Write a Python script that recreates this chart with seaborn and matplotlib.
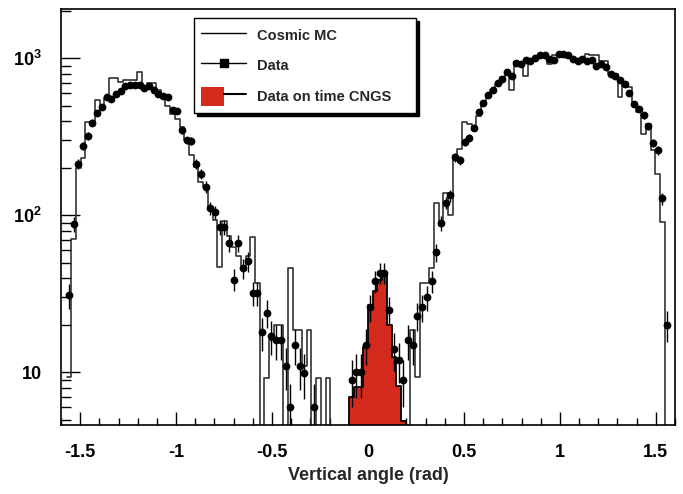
import numpy as np
import pandas as pd
import matplotlib
matplotlib.use('Agg')
import matplotlib.pyplot as plt
import seaborn as sns
from matplotlib.lines import Line2D
from matplotlib.patches import Patch
from matplotlib.legend_handler import HandlerTuple
from matplotlib.ticker import LogLocator, MultipleLocator, FuncFormatter, NullFormatter

# 128 bins of pi/128 rad covering [-pi/2, pi/2]
n_bins = 128
edges = np.linspace(-np.pi / 2, np.pi / 2, n_bins + 1)
centers = 0.5 * (edges[:-1] + edges[1:])

# Cosmic MC (counts per bin)
cosmic_mc = [
    9.3, 71, 200, 232, 393, 393, 545, 470, 560, 753, 753, 706, 724, 724, 724, 818,
    626, 696, 696, 626, 567, 500, 444, 413, 365, 300, 241, 203, 163, 152, 113, 93,
    47, 92, 74, 63, 55, 47, 55, 73, 37, 0, 9.2, 16, 20, 20, 0, 46,
    18.5, 18.5, 11, 18.5, 0, 9.2, 0, 9.2,
    0, 0, 0, 0, 0, 0, 0, 0, 0, 0, 0, 0, 0, 0, 0, 0, 0,
    18.5, 9.3, 37, 37, 46, 119, 86, 138, 100, 241, 266, 393, 384, 351, 427,
    515, 570, 632, 690, 760, 799, 626, 947, 947, 768, 933, 981, 1045, 1045, 919,
    1045, 1045, 1020, 1000, 1000, 980, 1000, 1060, 1045, 1045, 961, 961, 799, 799,
    567, 706, 656, 515, 455, 331, 384, 259, 184, 91, 0,
]

# Data (nan = empty bin)
nan = np.nan
data_counts = [
    31, 88, 213, 278, 320, 390, 450, 490, 570, 550, 595, 620, 670, 680, 680, 675,
    650, 664, 630, 596, 573, 567, 466, 462, 348, 300, 296, 213, 184, 152, 111, 105,
    84, 84, 67, 39, 67, 46, 51, 32, 32, 18, 24, 17, 16, 16, 11, 6,
    15, 11, 9.9, nan, 6, nan, nan, nan, nan, nan, nan, nan,
    9, 10, 10, 15, 26, 38, 43, 43, 25, 14, 12, 9, 16, 15, 23, 26,
    30, 38, 58, 89, 120, 134, 235, 224, 293, 313, 362, 455, 522, 581, 632, 696,
    742, 818, 768, 933, 916, 981, 961, 1010, 1045, 1045, 995, 970, 1060, 1070, 1045, 995,
    960, 995, 960, 970, 890, 916, 880, 790, 768, 732, 690, 600, 510, 478, 433, 369,
    289, 259, 128, 20,
]

# Data on time CNGS (bins 60..71)
cngs_first_bin = 60
cngs_counts = [7.0, 8.1, 8.1, 14.5, 26.7, 33, 38.5, 43, 20, 12.5, 8.2, 4.9]

red = '#d42a1e'

sns.set_style('ticks')
plt.rcParams['font.family'] = ['Liberation Sans', 'DejaVu Sans']
plt.rcParams['font.weight'] = 'bold'
plt.rcParams['mathtext.fontset'] = 'custom'
plt.rcParams['mathtext.rm'] = 'Liberation Sans:bold'
plt.rcParams['mathtext.bf'] = 'Liberation Sans:bold'

fig = plt.figure(figsize=(6.83, 4.94), dpi=100)
ax = fig.add_axes([0.0893, 0.1397, 0.899, 0.842])
ax.set_yscale('log')

mc_df = pd.DataFrame({'angle': centers, 'counts': cosmic_mc})
n_cngs = len(cngs_counts)
cngs_df = pd.DataFrame({'angle': centers[cngs_first_bin:cngs_first_bin + n_cngs],
                        'counts': cngs_counts})

# Cosmic MC step histogram
sns.histplot(data=mc_df, x='angle', weights='counts', bins=n_bins,
             binrange=(edges[0], edges[-1]), element='step', fill=False,
             color='#2a2a2a', linewidth=1.15, ax=ax)

# Data on time CNGS, filled red
sns.histplot(data=cngs_df, x='angle', weights='counts', bins=n_cngs,
             binrange=(edges[cngs_first_bin], edges[cngs_first_bin + n_cngs]),
             element='step', fill=True, color=red, alpha=1, edgecolor='black',
             linewidth=1.3, ax=ax)

# Data points with errors
d = np.array(data_counts, dtype=float)
ok = ~np.isnan(d)
ax.errorbar(centers[ok], d[ok], yerr=np.sqrt(d[ok]), xerr=(edges[1] - edges[0]) / 2,
            fmt='o', ms=4.6, mfc='black', mec='black', ecolor='black',
            elinewidth=1, capsize=0, zorder=5)

ax.set_xlim(-1.6, 1.6)
ax.set_ylim(4.62, 2060)

ax.xaxis.set_major_locator(MultipleLocator(0.5))
ax.xaxis.set_minor_locator(MultipleLocator(0.1))
ax.xaxis.set_major_formatter(FuncFormatter(lambda v, p: f'{v:g}'))
ax.yaxis.set_major_locator(LogLocator(base=10))
ax.yaxis.set_minor_locator(LogLocator(base=10, subs=np.arange(2, 10)))
ax.yaxis.set_minor_formatter(NullFormatter())


def ylab(v, pos):
    e = int(round(np.log10(v)))
    if e == 1:
        return '10'
    return r'$\mathbf{10^{%d}}$' % e


ax.yaxis.set_major_formatter(FuncFormatter(ylab))

ax.tick_params(which='both', direction='in', top=False, right=False, width=1, colors='black')
ax.tick_params(axis='y', which='major', length=13.7, pad=14, labelsize=13)
ax.tick_params(axis='y', which='minor', length=7)
ax.tick_params(axis='x', which='major', length=9.4, pad=14, labelsize=13)
ax.tick_params(axis='x', which='minor', length=5)

for s in ax.spines.values():
    s.set_linewidth(1.2)
    s.set_color('black')

ax.set_ylabel('')
ax.set_xlabel('Vertical angle (rad)', fontsize=13, fontweight='bold', labelpad=4)
ax.grid(False)

# Legend
h_mc = Line2D([], [], color='black', lw=1)
h_data = Line2D([], [], color='black', lw=1, marker='s', ms=6)
h_cngs = (Patch(facecolor=red, edgecolor='none'), Line2D([], [], color='black', lw=1.5))
x0, x1, ytop = 0.2166, 0.578, 0.978
leg = ax.legend([h_mc, h_data, h_cngs], ['Cosmic MC', 'Data', 'Data on time CNGS'],
                handler_map={tuple: HandlerTuple(ndivide=None, pad=0)},
                loc='upper left', bbox_to_anchor=(x0, ytop - 0.01, x1 - x0, 0.01),
                mode='expand', borderaxespad=0, prop={'weight': 'bold', 'size': 10.5},
                handlelength=3.1, handleheight=1.6, labelspacing=0.82, borderpad=0.5,
                handletextpad=0.7, fancybox=False, framealpha=1, edgecolor='black',
                shadow={'facecolor': 'black', 'edgecolor': 'black', 'alpha': 1})
leg.get_frame().set_linewidth(1.0)

fig.savefig('out.png', dpi=100)
